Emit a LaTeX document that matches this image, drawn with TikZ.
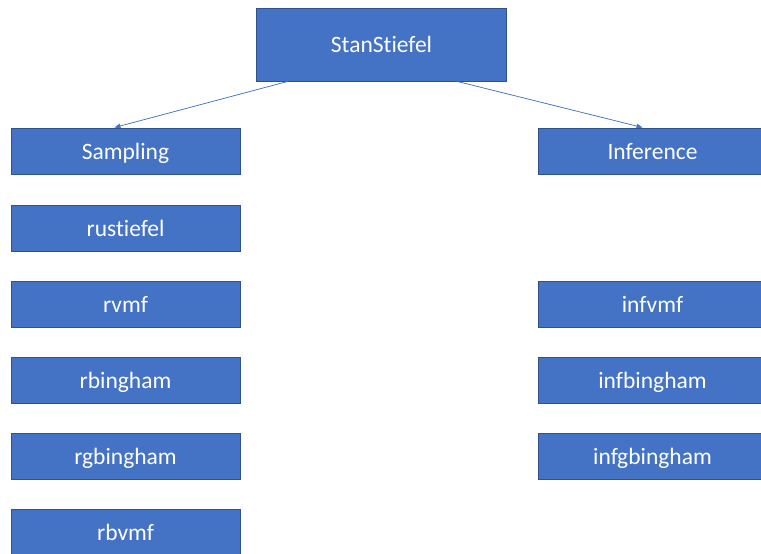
\documentclass[tikz,border=0pt]{standalone}
\usepackage{fontspec}
\setmainfont{Carlito}[Ligatures=CommonOff]
\usetikzlibrary{arrows.meta}
\definecolor{boxfill}{HTML}{4472C4}
\definecolor{boxline}{HTML}{2F528F}
\begin{document}
\begin{tikzpicture}[x=1pt,y=-1pt,
  box/.style={draw=boxline,line width=1pt,fill=boxfill,text=white,
    minimum width=229pt,minimum height=46pt,inner sep=0pt,
    text height=16.6pt,text depth=0pt,
    font=\fontsize{23.5}{27}\selectfont},
  link/.style={draw=boxfill,line width=0.75pt,-{Triangle[length=6pt,width=4.5pt]}}]
\useasboundingbox (0,0) rectangle (761,554);
\clip (0,0) rectangle (761,554);
\node[box,minimum width=250pt,minimum height=73pt] (top) at (381.5,44.5) {StanStiefel};
\node[box] (samp) at (125.5,151) {Sampling};
\node[box] (rust) at (125.5,228) {rustiefel};
\node[box] (rvmf) at (125.5,304) {rvmf};
\node[box] (rbing) at (125.5,380) {rbingham};
\node[box] (rgbing) at (125.5,456) {rgbingham};
\node[box] (rbvmf) at (125.5,532) {rbvmf};
\node[box] (inf) at (652.5,151) {Inference};
\node[box] (infvmf) at (652.5,304) {infvmf};
\node[box] (infbing) at (652.5,380) {infbingham};
\node[box] (infgbing) at (652.5,456) {infgbingham};
\draw[link] ([xshift=-94pt]top.south) -- ([xshift=-11pt]samp.north);
\draw[link] ([xshift=76pt]top.south) -- ([xshift=-10pt]inf.north);
\end{tikzpicture}
\end{document}
